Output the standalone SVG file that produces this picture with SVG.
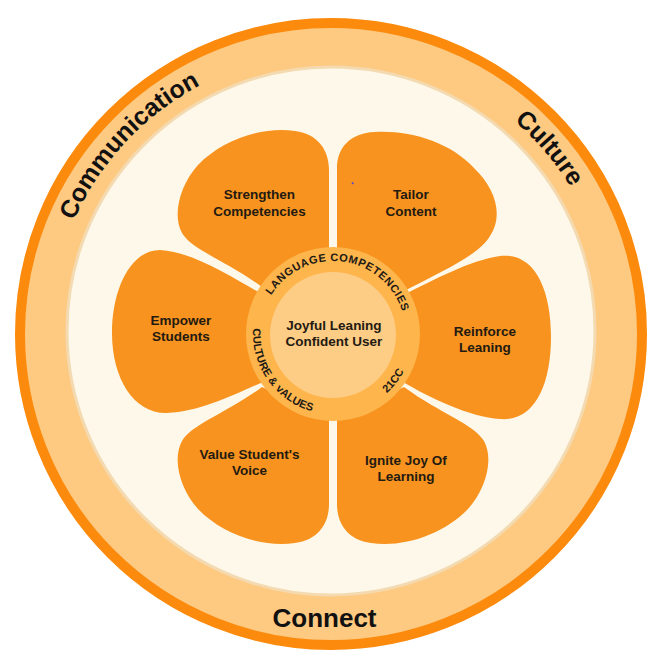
<svg xmlns="http://www.w3.org/2000/svg" xmlns:xlink="http://www.w3.org/1999/xlink" width="656" height="661" viewBox="0 0 656 661">
<style>
.petal{fill:#F7931E}
.lbl{font-family:"Liberation Sans",Arial,sans-serif;font-weight:bold;font-size:13.5px;fill:#231a12;text-anchor:middle}
.outer{font-family:"Liberation Sans",Arial,sans-serif;font-weight:bold;font-size:25px;fill:#111;text-anchor:middle}
.ring{font-family:"Liberation Sans",Arial,sans-serif;font-weight:bold;font-size:11px;fill:#1e1a16;text-anchor:middle}
.ringS{font-family:"Liberation Sans",Arial,sans-serif;font-weight:bold;font-size:11px;fill:#1e1a16;text-anchor:start}
</style>
<defs>
<path id="arcOuter" d="M 50,334 A 281 281 0 0 1 612,334"/>
<path id="arcRingTop" d="M 260,334 A 73 73 0 0 1 406,334"/>
<path id="arcRingBot" d="M 271.72,282.58 A 80 80 0 1 0 413,334"/>
<path id="petalS" d="M 329,255 L 329,170 C 329,150 318,134 295,131 C 262,126 222,140 198,165 C 180,185 172,215 182,233 C 192,250 225,260 262,287 Z"/>
</defs>
<g id="background">
<circle cx="331" cy="334" r="311" fill="#FEC981" stroke="#FC8A0C" stroke-width="10"/>
<circle cx="331" cy="331" r="264" fill="#FEF8EA" stroke="#F4DAB0" stroke-width="3"/>
</g>
<g id="outer-labels">
<text class="outer"><textPath xlink:href="#arcOuter" href="#arcOuter" startOffset="210.9">Communication</textPath></text>
<text class="outer"><textPath xlink:href="#arcOuter" href="#arcOuter" startOffset="684.2">Culture</textPath></text>
<text class="outer" x="324.5" y="627" style="font-size:26px">Connect</text>
</g>
<g id="connectors"></g>
<g id="petal-strengthen">
<use href="#petalS" xlink:href="#petalS" class="petal"/>
<text class="lbl" x="259.5" y="199">Strengthen</text>
<text class="lbl" x="259.5" y="216">Competencies</text>
</g>
<g id="petal-tailor">
<path class="petal" d="M 337,255 L 337,168 C 337,148 350,133 375,132 C 410,130 450,142 474,168 C 495,188 504,215 490,236 C 480,254 445,270 406,290 Z"/>
<text class="lbl" x="411" y="199">Tailor</text>
<text class="lbl" x="411" y="216">Content</text>
<circle cx="352.7" cy="183.3" r="1" fill="#4646e0"/>
</g>
<g id="petal-reinforce">
<path class="petal" d="M 405,294 C 432,281 470,260 500,256 C 535,252 551,290 551,337 C 551,384 535,422 500,419 C 470,417 430,398 403,382 Z"/>
<text class="lbl" x="485" y="336">Reinforce</text>
<text class="lbl" x="485" y="352">Leaning</text>
</g>
<g id="petal-ignite">
<use href="#petalS" xlink:href="#petalS" class="petal" transform="matrix(-1 0 0 -1 666 674)"/>
<text class="lbl" x="406" y="465">Ignite Joy Of</text>
<text class="lbl" x="406" y="481">Learning</text>
</g>
<g id="petal-value">
<use href="#petalS" xlink:href="#petalS" class="petal" transform="matrix(1 0 0 -1 0 674)"/>
<text class="lbl" x="249.5" y="459">Value Student's</text>
<text class="lbl" x="249.5" y="475">Voice</text>
</g>
<g id="petal-empower">
<path class="petal" d="M 262,294 C 236,280 195,252 160,250 C 130,250 112,290 112,333 C 112,380 135,414 167,413 C 200,412 235,394 263,382 Z"/>
<text class="lbl" x="181" y="325">Empower</text>
<text class="lbl" x="181" y="341">Students</text>
</g>
<g id="center">
<circle cx="333" cy="334" r="87" fill="#FDB54C"/>
<circle cx="333" cy="335" r="63" fill="#FDCC85"/>
<text class="ring" style="letter-spacing:0.55px"><textPath xlink:href="#arcRingTop" href="#arcRingTop" startOffset="123.6">LANGUAGE COMPETENCIES</textPath></text>
<text class="ringS"><textPath xlink:href="#arcRingBot" href="#arcRingBot" startOffset="50.1">CULTURE &amp;</textPath></text>
<text class="ringS"><textPath xlink:href="#arcRingBot" href="#arcRingBot" startOffset="116.7">vALUES</textPath></text>
<text class="ring"><textPath xlink:href="#arcRingBot" href="#arcRingBot" startOffset="254.1">21CC</textPath></text>
<text class="lbl" x="334" y="330">Joyful Leaning</text>
<text class="lbl" x="334" y="346">Confident User</text>
</g>
</svg>
